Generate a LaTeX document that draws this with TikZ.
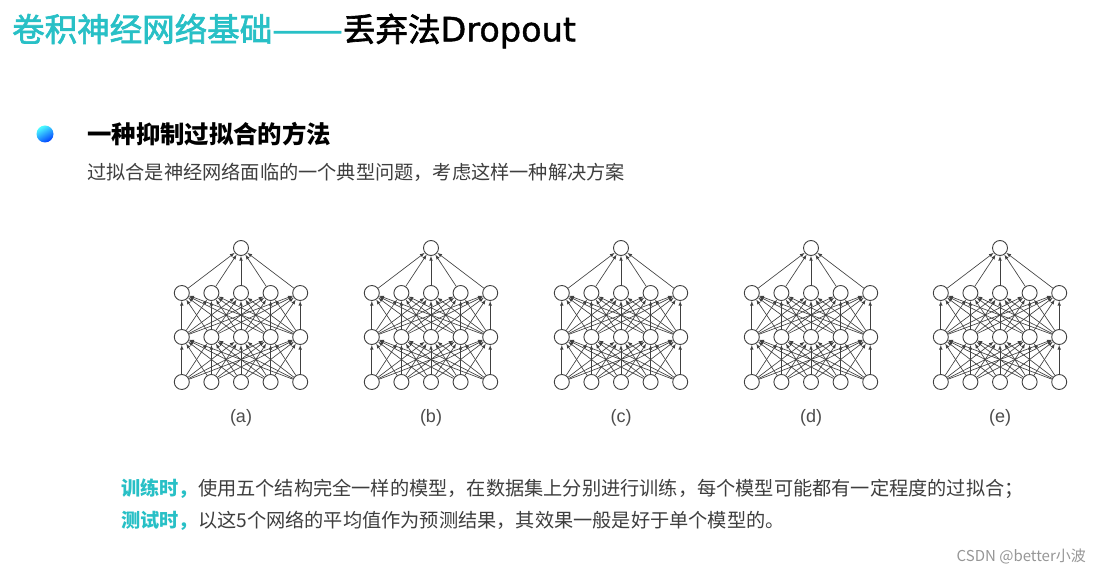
\documentclass[tikz,border=0pt]{standalone}
\usepackage{fontspec}
\setmainfont{Noto Sans CJK SC}
\newfontfamily\titlefont[FakeBold=2]{Noto Sans CJK SC}
\newfontfamily\capfont{Liberation Sans}
\newfontfamily\latinfont[FakeBold=1.2]{DejaVu Sans}
\usepackage{tikz}
\usetikzlibrary{
calc,
arrows,
}
\definecolor{titleteal}{RGB}{40,192,198}
\definecolor{bodygray}{RGB}{62,62,62}
\definecolor{markgray}{RGB}{150,150,150}
\tikzset{neuron/.style = {shape=circle,draw=black!75,fill=white,line width=0.9pt,minimum size=15pt,inner sep=0pt}}
\tikzset{edge/.style = {->, >={latex[scale=0.85]}, draw=black!75, line width=0.65pt}}
\tikzset{bullet/.style = {shape=circle,minimum size=17pt,inner sep=0pt,top color=cyan!70!white,bottom color=blue!75!cyan,shading angle=30}}
\tikzset{txt/.style = {anchor=west,inner sep=0pt,text=bodygray,font=\fontsize{19.2}{21}\selectfont}}

\begin{document}
\begin{tikzpicture}[x=1pt,y=-1pt]
\useasboundingbox[fill=white] (0,0) rectangle (1098,577);
\node[anchor=west,inner sep=0pt,font=\titlefont\fontsize{32.5}{34}\selectfont] (title) at (12,31)
  {\textcolor{titleteal}{卷积神经网络基础\scalebox{1.3}[1]{——}}丢弃法{\latinfont\fontsize{33.5}{34}\selectfont Dropout}};
\node[bullet] (dot) at (45,134) {};
\node[anchor=west,inner sep=0pt,font=\fontsize{24.4}{26}\selectfont\bfseries] (head) at (87,134) {一种抑制过拟合的方法};
\node[txt] (sub) at (87,172) {过拟合是神经网络面临的一个典型问题，考虑这样一种解决方案};
%
\foreach \k/\cx/\lab in {1/241/a,2/431/b,3/621/c,4/811/d,5/1000/e} {
  \node[neuron] (o\k) at (\cx,248) {};
  \foreach \l/\ly in {1/382,2/337,3/293}
    \foreach \i in {1,...,5}
      \node[neuron] (n\k-\l-\i) at ({\cx+29.6*(\i-3)},\ly) {};
  \foreach \i in {1,...,5} {
    \draw[edge] (n\k-3-\i) -- (o\k);
    \foreach \j in {1,...,5} {
      \draw[edge] (n\k-1-\i) -- (n\k-2-\j);
      \draw[edge] (n\k-2-\i) -- (n\k-3-\j);
    }
  }
  \node[text=black!70,font=\capfont\fontsize{18}{20}\selectfont] (cap\k) at (\cx,418) {(\lab)};
}
%
\node[txt] (train) at (121,489) {\textcolor{titleteal}{\bfseries 训练时，}使用五个结构完全一样的模型，在数据集上分别进行训练，每个模型可能都有一定程度的过拟合；};
\node[txt] (test) at (121,521) {\textcolor{titleteal}{\bfseries 测试时，}以这5个网络的平均值作为预测结果，其效果一般是好于单个模型的。};
\node[anchor=east,inner sep=0pt,text=markgray,font=\fontsize{15}{17}\selectfont] (mark) at (1086,556) {CSDN @better小波};
\end{tikzpicture}
\end{document}
